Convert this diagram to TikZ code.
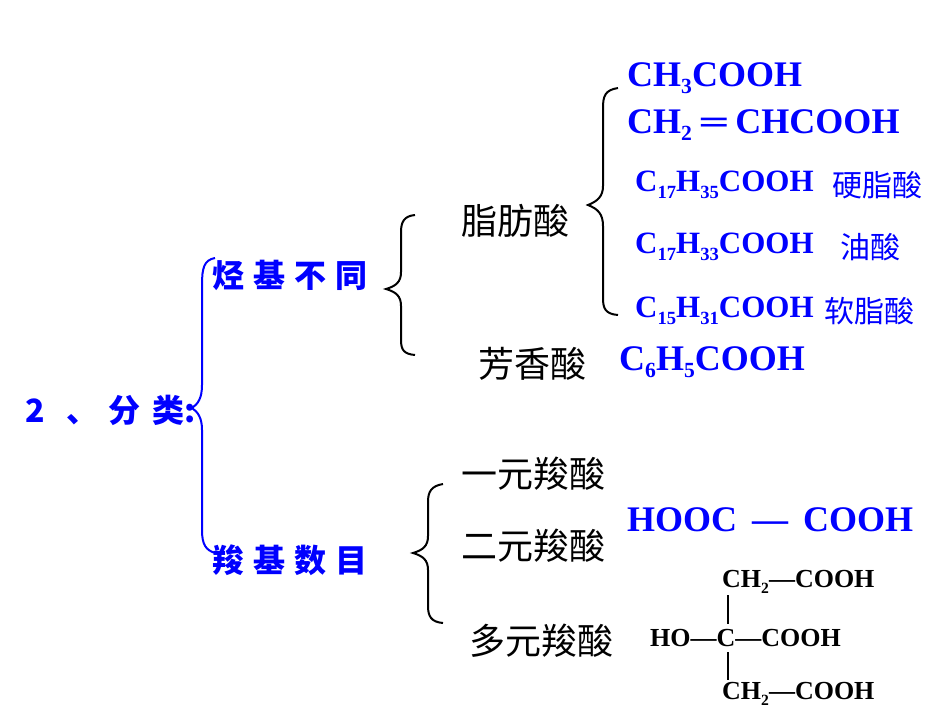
\documentclass[tikz,border=0pt]{standalone}
\usepackage{fontspec}
\setmainfont{Liberation Serif}
\newfontfamily\cjk{Noto Sans CJK SC}
\newcommand\sbx[1]{\raisebox{-0.45ex}{\fontsize{0.6em}{0.6em}\selectfont #1}}
\begin{document}
\begin{tikzpicture}[x=1pt,y=-1pt,
  blu/.style={text=blue,font=\bfseries\fontsize{36}{36}\selectfont,anchor=west,inner sep=0},
  sblu/.style={text=blue,font=\bfseries\fontsize{31}{31}\selectfont,anchor=west,inner sep=0},
  cn/.style={font=\cjk\fontsize{36}{36}\selectfont,anchor=west,inner sep=0},
  cnb/.style={text=blue,font=\cjk\fontsize{30}{30}\selectfont,anchor=west,inner sep=0},
  cal/.style={text=blue,font=\cjk\bfseries\fontsize{32}{32}\selectfont,anchor=west,inner sep=0},
  chem/.style={font=\bfseries\fontsize{26}{26}\selectfont,inner sep=0},
  br/.style={line width=2pt}]
\useasboundingbox (0,0) rectangle (950,713);
% blue brace
\draw[blue,line width=2pt] (215,258) .. controls (204,260) and (202,268) .. (202,285) -- (202,385) .. controls (202,398) and (198,404) .. (192,408) .. controls (198,412) and (202,418) .. (202,430) -- (202,530) .. controls (202,545) and (206,550) .. (215,553);
% black braces
\draw[br] (415,215) .. controls (404,216) and (401,222) .. (401,232) -- (401,272) .. controls (401,282) and (396,286) .. (386,289) .. controls (396,292) and (401,296) .. (401,306) -- (401,340) .. controls (401,350) and (404,354) .. (415,355);
\draw[br] (618,88) .. controls (605,90) and (603,96) .. (603,108) -- (603,186) .. controls (603,196) and (598,201) .. (588,205) .. controls (598,209) and (603,214) .. (603,226) -- (603,298) .. controls (603,308) and (605,314) .. (618,315);
\draw[br] (443,484) .. controls (431,486) and (428,492) .. (428,502) -- (428,536) .. controls (428,546) and (423,550) .. (413,553) .. controls (423,556) and (428,560) .. (428,570) -- (428,606) .. controls (428,616) and (431,622) .. (443,623);
% left labels
\node[cal] (fl) at (25,410) {2\hspace{22pt}、\hspace{10pt}分\hspace{12pt}类:};
\node[cal] (t1) at (212,275) {烃\hspace{9pt}基\hspace{9pt}不\hspace{9pt}同};
\node[cal] (t2) at (212,560) {羧\hspace{9pt}基\hspace{9pt}数\hspace{9pt}目};
% Chinese black
\node[cn] (zf) at (461,221) {脂肪酸};
\node[cn] (fx) at (478,364) {芳香酸};
\node[cn] (y1) at (461,474) {一元羧酸};
\node[cn] (y2) at (461,546) {二元羧酸};
\node[cn] (y3) at (469,641) {多元羧酸};
% formulas
\node[blu] (f1) at (627,78) {CH\sbx{3}COOH};
\node[blu] (f2) at (627,125) {CH\sbx{2} ═ CHCOOH};
\node[sblu] (f3) at (635,185) {C\sbx{17}H\sbx{35}COOH};
\node[cnb] (n3) at (832,185) {硬脂酸};
\node[sblu] (f4) at (635,247) {C\sbx{17}H\sbx{33}COOH};
\node[cnb] (n4) at (840,247) {油酸};
\node[sblu] (f5) at (635,311) {C\sbx{15}H\sbx{31}COOH};
\node[cnb] (n5) at (824,311) {软脂酸};
\node[blu] (f6) at (619,362) {C\sbx{6}H\sbx{5}COOH};
\node[blu] (f7) at (627,520) {HOOC \,—\, COOH};
% citric acid
\node[chem,anchor=west] (r1) at (722,582) {CH\sbx{2}—COOH};
\node[chem,anchor=west] (r2) at (650,638) {HO—C—COOH};
\node[chem,anchor=west] (r3) at (722,694) {CH\sbx{2}—COOH};
\coordinate (v1) at (728,595);
\coordinate (v2) at (728,624);
\coordinate (v3) at (728,652);
\coordinate (v4) at (728,680);
\draw[line width=1.3pt] (v1) -- (v2) (v3) -- (v4);
\end{tikzpicture}
\end{document}
